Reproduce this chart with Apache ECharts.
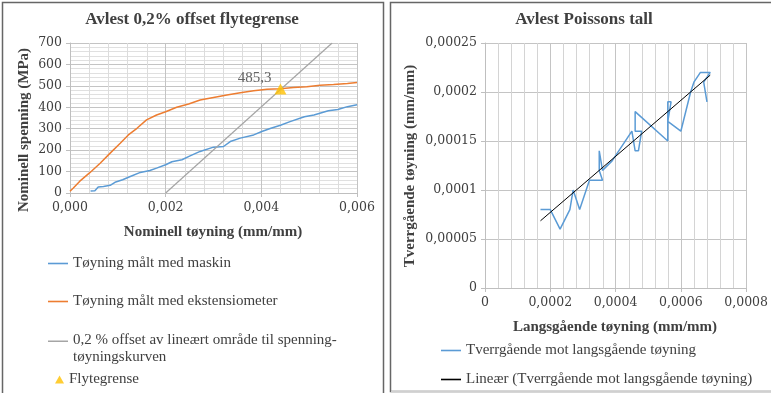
<!DOCTYPE html>
<html>
<head>
<meta charset="utf-8">
<script src="https://cdn.jsdelivr.net/npm/echarts@6/dist/echarts.min.js"></script>
<style>
  html, body { margin: 0; padding: 0; background: #ffffff; }
  #chart { width: 771px; height: 393px; }
</style>
</head>
<body>
<div id="chart"></div>
<script>
// ---- Tensile test: stress vs strain ----
const strainMachine = [0.00043, 0.00052, 0.00056, 0.00059, 0.00070, 0.00084, 0.00094, 0.00110, 0.00126, 0.00147, 0.00167, 0.00181, 0.00200, 0.00213, 0.00234, 0.00251, 0.00272, 0.00300, 0.00321, 0.00335, 0.00356, 0.00384, 0.00401, 0.00420, 0.00440, 0.00460, 0.00490, 0.00510, 0.00540, 0.00560, 0.00580, 0.00600];
const stressMachine = [9, 10, 12, 28, 30, 36, 50, 62, 77, 96, 105, 116, 132, 146, 155, 173, 194, 214, 217, 240, 256, 271, 287, 302, 316, 333, 356, 364, 384, 390, 403, 412];

const strainExt = [0, 0.00007, 0.00020, 0.00042, 0.00063, 0.00084, 0.00105, 0.00122, 0.00140, 0.00160, 0.00181, 0.00200, 0.00223, 0.00248, 0.00272, 0.00300, 0.00328, 0.00356, 0.00384, 0.00412, 0.00440, 0.00467, 0.00495, 0.00523, 0.00551, 0.00580, 0.00600];
const stressExt = [8, 23, 54, 96, 139, 186, 232, 271, 302, 341, 364, 379, 400, 415, 434, 446, 457, 468, 477, 484, 487, 492, 496, 503, 506, 511, 516];

// 0,2 % offset line (parallel to the elastic part)
const offsetStrain = [0.00200, 0.00548];
const offsetStress = [0, 700];

// Yield point
const yieldStrain = [0.00440];
const yieldStress = [485.3];

// ---- Poisson's ratio: transverse vs longitudinal strain ----
const longStrain = [0.00017, 0.00020, 0.00023, 0.00026, 0.00027, 0.00029, 0.00032, 0.00036, 0.00035, 0.00035, 0.00036, 0.00039, 0.00045, 0.00046, 0.00047, 0.00048, 0.00046, 0.00046, 0.00056, 0.00056, 0.00057, 0.00056, 0.00060, 0.00063, 0.00064, 0.00066, 0.00069, 0.00067, 0.00068];
const transStrain = [0.00008, 0.00008, 0.00006, 0.00008, 0.00010, 0.00008, 0.00011, 0.00011, 0.00012, 0.00014, 0.00012, 0.00013, 0.00016, 0.00014, 0.00014, 0.00016, 0.00016, 0.00018, 0.00015, 0.00019, 0.00019, 0.00017, 0.00016, 0.00020, 0.00021, 0.00022, 0.00022, 0.00021, 0.00019];

// Linear trend line: y = 0,2858x + 2E-05
const trendSlope = 0.2858;
const trendIntercept = 0.00002;
const trendX = [0.00017, 0.00069];

// Axis tick labels
const stressTicks = [0, 100, 200, 300, 400, 500, 600, 700];
const strainTicks = ['0,000', '0,002', '0,004', '0,006'];
const longTicks = ['0', '0,0002', '0,0004', '0,0006', '0,0008'];
const transTicks = ['0', '0,00005', '0,0001', '0,00015', '0,0002', '0,00025'];

const names = {
  machine: 'Tøyning målt med maskin',
  ext: 'Tøyning målt med ekstensiometer',
  offset: '0,2 % offset av lineært område til spenning-\ntøyningskurven',
  yield: 'Flytegrense',
  poisson: 'Tverrgående mot langsgående tøyning',
  trend: 'Lineær (Tverrgående mot langsgående tøyning)'
};

const pairs = (xs, ys) => xs.map((x, i) => [x, ys[i]]);

const SERIF = 'DejaVu Serif';
const LEG = 'Liberation Serif';
const TXT = '#404040';
const MAJOR = '#c4c4c4';
const MINOR = '#e0e0e0';

const chart = echarts.init(document.getElementById('chart'), null, { renderer: 'canvas' });

function tickIndex(list, v, step) {
  return list[Math.round(v / step)];
}

const axisLabel = { color: TXT, fontFamily: SERIF, fontSize: 12.5, margin: 8 };
const axisLine = { show: true, lineStyle: { color: '#bfbfbf', width: 1 } };
const axisTick = { show: true, length: 4, lineStyle: { color: '#bfbfbf' } };

// silent helper axis that only draws the fine horizontal grid (counted in grid steps)
function gridOnlyAxis(gridIndex, steps, color) {
  return {
    gridIndex: gridIndex, type: 'value', min: 0, max: steps, interval: 1, z: 0,
    axisLine: { show: false }, axisTick: { show: false }, axisLabel: { show: false },
    splitLine: { show: true, lineStyle: { color: color, width: 1 } }
  };
}

// fine vertical grid: five sub-divisions between labelled ticks, drawn as crisp 1px lines
function minorVerticals(major, count, axisIdx, yMin, yMax, color) {
  const step = major / 5;
  const xs = [];
  for (let k = 1; k < count * 5; k++) {
    if (k % 5 !== 0) xs.push([+(k * step).toPrecision(6), yMin, yMax]);
  }
  return {
    type: 'custom', xAxisIndex: axisIdx, yAxisIndex: axisIdx, z: 1, silent: true,
    data: xs,
    encode: { x: 0, y: [1, 2] },
    renderItem: (params, api) => {
      const bottom = api.coord([api.value(0), api.value(1)]);
      const top = api.coord([api.value(0), api.value(2)]);
      const x = Math.round(bottom[0]) + 0.5;
      return {
        type: 'line',
        shape: { x1: x, y1: bottom[1], x2: x, y2: top[1] },
        style: { stroke: color, lineWidth: 1 }
      };
    }
  };
}

// legend swatch: a thin bar at the top of the icon box (a tiny dot keeps the box height)
const LINE_ICON = 'path://M0,0h20v1.6h-20z M0,17h0.01v0.01h-0.01z';

function lineLegend(name, top, left, color) {
  return {
    data: [{ name: name, icon: 'rect' }],
    left: left, top: top, padding: 0,
    itemWidth: 20, itemHeight: 1.6,
    itemStyle: { color: color },
    textStyle: { color: TXT, fontFamily: LEG, fontSize: 15 },
    selectedMode: false
  };
}

const option = {
  backgroundColor: '#ffffff',
  animation: false,
  grid: [
    { left: 70, top: 43, width: 287, height: 150 },
    { left: 485, top: 43, width: 262, height: 245 }
  ],
  xAxis: [
    {
      gridIndex: 0, type: 'value', min: 0, max: 0.006, interval: 0.002, z: 1,
      axisLine: axisLine, axisTick: axisTick,
      axisLabel: Object.assign({}, axisLabel, { formatter: v => tickIndex(strainTicks, v, 0.002) }),
      splitLine: { show: true, lineStyle: { color: MAJOR, width: 1 } }
    },
    {
      gridIndex: 1, type: 'value', min: 0, max: 0.0008, interval: 0.0002, z: 1,
      axisLine: axisLine, axisTick: axisTick,
      axisLabel: Object.assign({}, axisLabel, { formatter: v => tickIndex(longTicks, v, 0.0002) }),
      splitLine: { show: true, lineStyle: { color: MAJOR, width: 1 } }
    }
  ],
  yAxis: [
    {
      gridIndex: 0, type: 'value', min: 0, max: 700, interval: 100, z: 1,
      axisLine: axisLine, axisTick: axisTick,
      axisLabel: Object.assign({}, axisLabel, { formatter: v => String(tickIndex(stressTicks, v, 100)) }),
      splitLine: { show: true, lineStyle: { color: MAJOR, width: 1 } }
    },
    {
      gridIndex: 1, type: 'value', min: 0, max: 0.00025, interval: 0.00005, z: 1,
      axisLine: axisLine, axisTick: axisTick,
      axisLabel: Object.assign({}, axisLabel, { formatter: v => tickIndex(transTicks, v, 0.00005) }),
      splitLine: { show: true, lineStyle: { color: MAJOR, width: 1 } }
    },
    gridOnlyAxis(0, 35, MINOR)
  ],
  legend: [
    lineLegend(names.machine, 256, 48, '#5b9bd5'),
    lineLegend(names.ext, 294, 48, '#ed7d31'),
    {
      data: [{ name: names.offset, icon: LINE_ICON }],
      left: 48, top: 332, padding: 0,
      itemWidth: 20, itemHeight: 18.6,
      itemStyle: { color: '#a5a5a5' },
      textStyle: { color: TXT, fontFamily: LEG, fontSize: 15, lineHeight: 17 },
      selectedMode: false
    },
    {
      data: [{ name: names.yield, icon: 'triangle' }],
      left: 55, top: 372, padding: 0,
      itemWidth: 9, itemHeight: 8,
      itemStyle: { color: '#ffc000' },
      textStyle: { color: TXT, fontFamily: LEG, fontSize: 15 },
      selectedMode: false
    },
    lineLegend(names.poisson, 343, 441, '#5b9bd5'),
    lineLegend(names.trend, 372, 441, '#000000')
  ],
  series: [
    minorVerticals(0.002, 3, 0, 0, 700, '#dcdcdc'),
    minorVerticals(0.0002, 4, 1, 0, 0.00025, '#d4d4d4'),
    {
      name: names.machine, type: 'line', xAxisIndex: 0, yAxisIndex: 0,
      data: pairs(strainMachine, stressMachine), showSymbol: false, symbol: 'none',
      lineStyle: { color: '#5b9bd5', width: 1.5 }, itemStyle: { color: '#5b9bd5' }
    },
    {
      name: names.ext, type: 'line', xAxisIndex: 0, yAxisIndex: 0,
      data: pairs(strainExt, stressExt), showSymbol: false, symbol: 'none',
      lineStyle: { color: '#ed7d31', width: 1.5 }, itemStyle: { color: '#ed7d31' }
    },
    {
      name: names.offset, type: 'line', xAxisIndex: 0, yAxisIndex: 0,
      data: pairs(offsetStrain, offsetStress), showSymbol: false, symbol: 'none',
      lineStyle: { color: '#a5a5a5', width: 1.2 }, itemStyle: { color: '#a5a5a5' }
    },
    {
      name: names.yield, type: 'scatter', xAxisIndex: 0, yAxisIndex: 0,
      data: pairs(yieldStrain, yieldStress), symbol: 'triangle', symbolSize: [12, 11],
      itemStyle: { color: '#ffc000' },
      label: {
        show: true, position: 'left', distance: 3, offset: [0, -11],
        color: TXT, fontFamily: LEG, fontSize: 15,
        formatter: p => String(p.value[1]).replace('.', ',')
      },
      z: 5
    },
    {
      name: names.poisson, type: 'line', xAxisIndex: 1, yAxisIndex: 1,
      data: pairs(longStrain, transStrain), showSymbol: false, symbol: 'none',
      lineStyle: { color: '#5b9bd5', width: 1.5 }, itemStyle: { color: '#5b9bd5' }
    },
    {
      name: names.trend, type: 'line', xAxisIndex: 1, yAxisIndex: 1,
      data: trendX.map((x, i) => {
        const pt = { value: [x, trendSlope * x + trendIntercept] };
        if (i === trendX.length - 1) {
          pt.label = {
            show: true, position: 'left', distance: 18, offset: [0, 3],
            color: TXT, fontFamily: LEG, fontSize: 14,
            formatter: 'y = 0,2858x + 2E-05'
          };
        }
        return pt;
      }),
      showSymbol: true, symbol: 'none',
      lineStyle: { color: '#000000', width: 1 }, itemStyle: { color: '#000000' },
      z: 4
    }
  ],
  graphic: [
    // panel frames
    { type: 'rect', shape: { x: 2.5, y: 2.5, width: 381, height: 400 }, style: { fill: 'none', stroke: '#666666', lineWidth: 1.5 }, silent: true, z: -1 },
    { type: 'rect', shape: { x: 390.5, y: 2.5, width: 400, height: 389 }, style: { fill: 'none', stroke: '#666666', lineWidth: 1.5 }, silent: true, z: -1 },
    { type: 'line', shape: { x1: 391, y1: 391.5, x2: 771, y2: 391.5 }, style: { stroke: '#d0d0d0', lineWidth: 1.5 }, silent: true, z: 0 },
    // titles
    { type: 'text', x: 192, y: 20, style: { text: 'Avlest 0,2% offset flytegrense', fill: TXT, font: 'bold 17px "Liberation Serif"', align: 'center', verticalAlign: 'middle' } },
    { type: 'text', x: 584, y: 20, style: { text: 'Avlest Poissons tall', fill: TXT, font: 'bold 17px "Liberation Serif"', align: 'center', verticalAlign: 'middle' } },
    // axis titles
    { type: 'text', x: 24, y: 130, rotation: Math.PI / 2, style: { text: 'Nominell spenning (MPa)', fill: TXT, font: 'bold 15px "Liberation Serif"', align: 'center', verticalAlign: 'middle' } },
    { type: 'text', x: 213, y: 232, style: { text: 'Nominell tøyning (mm/mm)', fill: TXT, font: 'bold 15px "Liberation Serif"', align: 'center', verticalAlign: 'middle' } },
    { type: 'text', x: 410, y: 166, rotation: Math.PI / 2, style: { text: 'Tverrgående tøyning (mm/mm)', fill: TXT, font: 'bold 15px "Liberation Serif"', align: 'center', verticalAlign: 'middle' } },
    { type: 'text', x: 615, y: 327, style: { text: 'Langsgående tøyning (mm/mm)', fill: TXT, font: 'bold 15px "Liberation Serif"', align: 'center', verticalAlign: 'middle' } }
  ]
};

chart.setOption(option);
</script>
</body>
</html>
